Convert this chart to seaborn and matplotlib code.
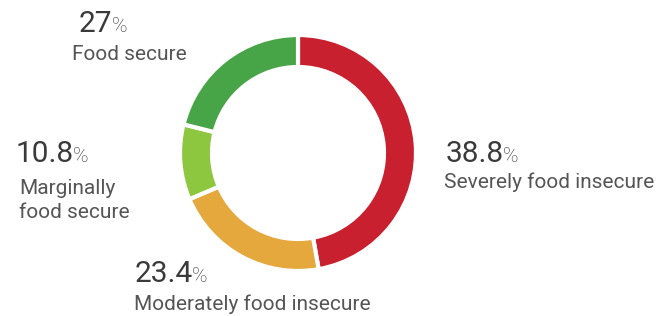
import matplotlib
matplotlib.use("Agg")
import matplotlib.pyplot as plt
import seaborn as sns

# data (clockwise from 12 o'clock)
categories = ["Severely food insecure", "Moderately food insecure",
              "Marginally\nfood secure", "Food secure"]
value_labels = ["38.8", "23.4", "10.8", "27"]
# arc sizes as drawn in the reference ring (measured, in % of the circle)
arc_sizes = [47.2, 21.4, 10.3, 21.1]
colors = ["#C8202F", "#E4A83C", "#8DC63F", "#48A547"]

sns.set_theme(style="white")
plt.rcParams["font.family"] = ["Roboto", "DejaVu Sans"]

W, H = 656, 316
fig = plt.figure(figsize=(W / 100, H / 100), dpi=100)
ax = fig.add_axes([0, 0, 1, 1])

# donut (y axis is flipped, so counterclock here looks clockwise)
ax.pie(arc_sizes, colors=colors, startangle=-90, counterclock=True,
       center=(298, 153), radius=118, frame=True,
       wedgeprops=dict(width=32, edgecolor="white", linewidth=3))
ax.set_xlim(0, W)
ax.set_ylim(H, 0)
ax.set_aspect("equal")
ax.axis("off")

# label anchors: (x, number baseline, last label line baseline)
label_pos = [(446, 162, 188), (135, 282, 310), (16, 162, 218), (79, 32, 60)]
label_x = [444, 134, 19, 72]

fig.canvas.draw()
renderer = fig.canvas.get_renderer()
for (x, yb, yl), lx, val, cat in zip(label_pos, label_x, value_labels, categories):
    t = ax.text(x, yb, val, fontsize=21.5, fontweight="normal", color="#3a3a3a",
                va="baseline", ha="left")
    bb = t.get_window_extent(renderer=renderer)
    xr = ax.transData.inverted().transform((bb.x1, bb.y0))[0]
    ax.text(xr - 1, yb, "%", fontsize=15, fontweight="light", color="#333333",
            va="baseline", ha="left")
    ax.text(lx, yl, cat, fontsize=15, fontweight="normal", color="#555555",
            va="baseline", ha="left", linespacing=1.3)

fig.savefig("out.png", dpi=100, facecolor="white")
